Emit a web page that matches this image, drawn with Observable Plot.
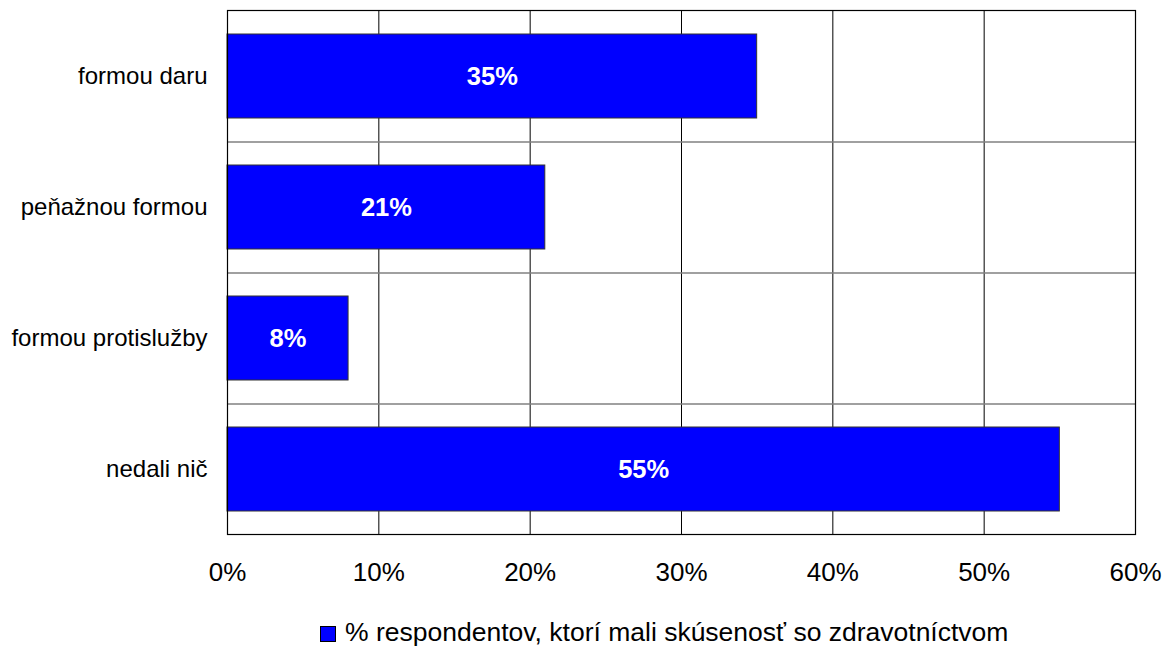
<!DOCTYPE html>
<html>
<head>
<meta charset="utf-8">
<script src="https://cdn.jsdelivr.net/npm/d3@7"></script>
<script src="https://cdn.jsdelivr.net/npm/@observablehq/plot@0.6"></script>
<style>
  html, body { margin: 0; padding: 0; background: #fff; }
  body { width: 1165px; height: 648px; position: relative; overflow: hidden; font-family: "Liberation Sans", Arial, sans-serif; }
  #legend { position: absolute; left: 320px; top: 619px; display: flex; align-items: flex-start; font-size: 26.5px; line-height: 1; color: #000; white-space: nowrap; }
  #legend .sw { width: 14px; height: 14px; background: #0000ff; border: 1px solid #000; margin-top: 7px; margin-right: 9px; }
</style>
</head>
<body>
<div id="chart"></div>
<div id="legend"><span class="sw"></span><span id="legtext"></span></div>
<script>
const categories = ["formou daru", "peňažnou formou", "formou protislužby", "nedali nič"];
const values = [35, 21, 8, 55];
const xTicks = [0, 10, 20, 30, 40, 50, 60];
const seriesName = "% respondentov, ktorí mali skúsenosť so zdravotníctvom";

const data = categories.map((c, i) => ({category: c, value: values[i]}));

const W = 1165, H = 600, mT = 10, mB = 66, mL = 227, mR = 30;
const step = (H - mT - mB) / categories.length;

const chart = Plot.plot({
  width: W,
  height: H,
  marginTop: mT,
  marginBottom: mB,
  marginLeft: mL,
  marginRight: mR,
  style: {fontFamily: "'Liberation Sans', Arial, sans-serif", background: "#fff", color: "#000"},
  x: {domain: [0, 60], ticks: xTicks},
  y: {domain: categories, paddingInner: 0.36, paddingOuter: 0.18},
  marks: [
    Plot.gridX(xTicks.slice(1, -1), {stroke: "#000", strokeOpacity: 1, strokeWidth: 1}),
    Plot.ruleY(categories.slice(1), {dy: -step / 2, stroke: "#808080", strokeWidth: 1.6}),
    Plot.barX(data, {x: "value", y: "category", fill: "#0000ff", stroke: "#333", strokeWidth: 1}),
    Plot.text(data, {x: d => d.value / 2, y: "category", text: d => d.value + "%", fill: "#fff", fontWeight: "bold", fontSize: 25.5}),
    Plot.frame({stroke: "#000", strokeWidth: 1.2}),
    Plot.axisX(xTicks, {tickSize: 0, tickPadding: 28, fontSize: 26, tickFormat: d => d + "%", label: null}),
    Plot.axisY({tickSize: 0, tickPadding: 20, fontSize: 24, label: null})
  ]
});
document.getElementById("chart").appendChild(chart);
document.getElementById("legtext").textContent = seriesName;
</script>
</body>
</html>
